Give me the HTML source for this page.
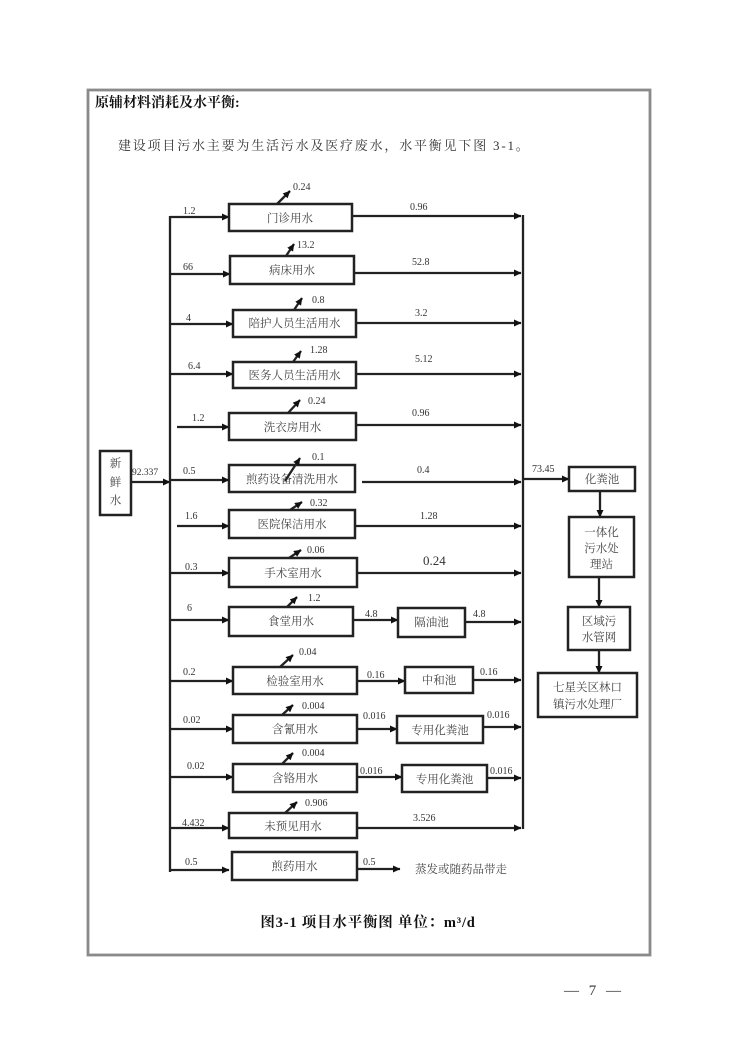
<!DOCTYPE html>
<html><head><meta charset="utf-8">
<style>
html,body{margin:0;padding:0;background:#fff;}
body{width:740px;height:1046px;position:relative;overflow:hidden;}
svg{position:absolute;left:0;top:0;}
.n{font-family:"Liberation Serif","Noto Serif CJK SC",serif;font-size:10px;fill:#333;}
.c{font-family:"Liberation Serif","Noto Serif CJK SC",serif;font-size:11.5px;fill:#444;text-anchor:middle;}
.b{fill:#fff;stroke:#222;stroke-width:2.5;}
.l{stroke:#222;stroke-width:2.3;fill:none;}
</style></head><body>
<svg width="740" height="1046" viewBox="0 0 740 1046" xmlns="http://www.w3.org/2000/svg">
<defs>
<marker id="a" markerWidth="9" markerHeight="9" refX="7" refY="4" orient="auto" markerUnits="userSpaceOnUse"><path d="M0,0.5 L7.5,4 L0,7.5 z" fill="#111"/></marker>
</defs>
<!-- frame -->
<rect x="88" y="90" width="562" height="865" fill="none" stroke="#8a8a8a" stroke-width="2.8"/>
<text x="95" y="107" style="font-family:'Liberation Serif','Noto Serif CJK SC',serif;font-size:14px;font-weight:bold;fill:#111">原辅材料消耗及水平衡:</text>
<text x="118" y="150" style="font-family:'Liberation Serif','Noto Serif CJK SC',serif;font-size:13px;letter-spacing:1.8px;fill:#333">建设项目污水主要为生活污水及医疗废水，水平衡见下图 3-1。</text>

<!-- fresh water -->
<rect class="b" x="100" y="451" width="31" height="64"/>
<text class="c" x="115.5" y="467">新</text>
<text class="c" x="115.5" y="486">鲜</text>
<text class="c" x="115.5" y="504">水</text>
<text class="n" x="132" y="475" style="font-size:9.5px">92.337</text>
<line class="l" x1="131" y1="482" x2="170" y2="482" marker-end="url(#a)"/>

<!-- buses -->
<line class="l" x1="170" y1="216" x2="170" y2="872"/>
<line class="l" x1="523" y1="215" x2="523" y2="829"/>

<!-- Row 1 -->
<line class="l" x1="170" y1="217" x2="229" y2="217" marker-end="url(#a)"/>
<rect class="b" x="229" y="204" width="123" height="27"/>
<text class="c" x="290" y="222">门诊用水</text>
<text class="n" x="183" y="214">1.2</text>
<line class="l" x1="277" y1="204" x2="290" y2="191" marker-end="url(#a)"/>
<text class="n" x="293" y="190">0.24</text>
<line class="l" x1="352" y1="216" x2="521" y2="216" marker-end="url(#a)"/>
<text class="n" x="410" y="210">0.96</text>

<!-- Row 2 -->
<line class="l" x1="170" y1="274" x2="230" y2="274" marker-end="url(#a)"/>
<rect class="b" x="230" y="256" width="124" height="28"/>
<text class="c" x="292" y="274">病床用水</text>
<text class="n" x="183" y="270">66</text>
<line class="l" x1="286" y1="256" x2="294" y2="244" marker-end="url(#a)"/>
<text class="n" x="297" y="248">13.2</text>
<line class="l" x1="354" y1="273" x2="521" y2="273" marker-end="url(#a)"/>
<text class="n" x="412" y="265">52.8</text>

<!-- Row 3 -->
<line class="l" x1="170" y1="324" x2="233" y2="324" marker-end="url(#a)"/>
<rect class="b" x="233" y="310" width="123" height="27"/>
<text class="c" x="294.5" y="327">陪护人员生活用水</text>
<text class="n" x="186" y="321">4</text>
<line class="l" x1="294" y1="310" x2="302" y2="298" marker-end="url(#a)"/>
<text class="n" x="312" y="303">0.8</text>
<line class="l" x1="356" y1="323" x2="521" y2="323" marker-end="url(#a)"/>
<text class="n" x="415" y="316">3.2</text>

<!-- Row 4 -->
<line class="l" x1="170" y1="374" x2="233" y2="374" marker-end="url(#a)"/>
<rect class="b" x="233" y="362" width="123" height="26"/>
<text class="c" x="294.5" y="379">医务人员生活用水</text>
<text class="n" x="188" y="369">6.4</text>
<line class="l" x1="293" y1="362" x2="301" y2="351" marker-end="url(#a)"/>
<text class="n" x="310" y="353">1.28</text>
<line class="l" x1="356" y1="374" x2="521" y2="374" marker-end="url(#a)"/>
<text class="n" x="415" y="362">5.12</text>

<!-- Row 5 -->
<line class="l" x1="177" y1="427" x2="229" y2="427" marker-end="url(#a)"/>
<rect class="b" x="229" y="413" width="127" height="27"/>
<text class="c" x="292.5" y="431">洗衣房用水</text>
<text class="n" x="192" y="421">1.2</text>
<line class="l" x1="288" y1="413" x2="300" y2="400" marker-end="url(#a)"/>
<text class="n" x="308" y="404">0.24</text>
<line class="l" x1="356" y1="425" x2="521" y2="425" marker-end="url(#a)"/>
<text class="n" x="412" y="416">0.96</text>

<!-- Row 6 -->
<line class="l" x1="170" y1="480" x2="229" y2="480" marker-end="url(#a)"/>
<rect class="b" x="229" y="465" width="126" height="27"/>
<text class="c" x="292" y="483">煎药设备清洗用水</text>
<text class="n" x="183" y="474">0.5</text>
<line class="l" x1="285" y1="481" x2="300" y2="458" marker-end="url(#a)"/>
<text class="n" x="312" y="460">0.1</text>
<line class="l" x1="362" y1="482" x2="521" y2="482" marker-end="url(#a)"/>
<text class="n" x="417" y="473">0.4</text>

<!-- Row 7 -->
<line class="l" x1="177" y1="526" x2="229" y2="526" marker-end="url(#a)"/>
<rect class="b" x="229" y="510" width="126" height="28"/>
<text class="c" x="292" y="528">医院保洁用水</text>
<text class="n" x="185" y="519">1.6</text>
<line class="l" x1="290" y1="510" x2="302" y2="502" marker-end="url(#a)"/>
<text class="n" x="310" y="506">0.32</text>
<line class="l" x1="355" y1="526" x2="521" y2="526" marker-end="url(#a)"/>
<text class="n" x="420" y="519">1.28</text>

<!-- Row 8 -->
<line class="l" x1="170" y1="573" x2="229" y2="573" marker-end="url(#a)"/>
<rect class="b" x="229" y="558" width="128" height="29"/>
<text class="c" x="293" y="577">手术室用水</text>
<text class="n" x="185" y="570">0.3</text>
<line class="l" x1="289" y1="558" x2="301" y2="550" marker-end="url(#a)"/>
<text class="n" x="307" y="553">0.06</text>
<line class="l" x1="357" y1="573" x2="521" y2="573" marker-end="url(#a)"/>
<text class="n" x="423" y="565" style="font-size:13px">0.24</text>

<!-- Row 9 -->
<line class="l" x1="170" y1="620" x2="229" y2="620" marker-end="url(#a)"/>
<rect class="b" x="229" y="607" width="124" height="29"/>
<text class="c" x="291" y="625">食堂用水</text>
<text class="n" x="187" y="611">6</text>
<line class="l" x1="287" y1="607" x2="297" y2="597" marker-end="url(#a)"/>
<text class="n" x="308" y="601">1.2</text>
<line class="l" x1="353" y1="620" x2="398" y2="620" marker-end="url(#a)"/>
<text class="n" x="365" y="617">4.8</text>
<rect class="b" x="398" y="608" width="67" height="29"/>
<text class="c" x="431.5" y="626">隔油池</text>
<line class="l" x1="465" y1="622" x2="521" y2="622" marker-end="url(#a)"/>
<text class="n" x="473" y="617">4.8</text>

<!-- Row 10 -->
<line class="l" x1="170" y1="681" x2="233" y2="681" marker-end="url(#a)"/>
<rect class="b" x="233" y="667" width="124" height="27"/>
<text class="c" x="295" y="685">检验室用水</text>
<text class="n" x="183" y="675">0.2</text>
<line class="l" x1="280" y1="667" x2="293" y2="655" marker-end="url(#a)"/>
<text class="n" x="299" y="655">0.04</text>
<line class="l" x1="357" y1="681" x2="405" y2="681" marker-end="url(#a)"/>
<text class="n" x="367" y="678">0.16</text>
<rect class="b" x="405" y="667" width="68" height="26"/>
<text class="c" x="439" y="684">中和池</text>
<line class="l" x1="473" y1="680" x2="521" y2="680" marker-end="url(#a)"/>
<text class="n" x="480" y="675">0.16</text>

<!-- Row 11 -->
<line class="l" x1="170" y1="729" x2="233" y2="729" marker-end="url(#a)"/>
<rect class="b" x="233" y="715" width="124" height="28"/>
<text class="c" x="295" y="733">含氰用水</text>
<text class="n" x="183" y="723">0.02</text>
<line class="l" x1="282" y1="715" x2="293" y2="705" marker-end="url(#a)"/>
<text class="n" x="302" y="709">0.004</text>
<line class="l" x1="357" y1="729" x2="397" y2="729" marker-end="url(#a)"/>
<text class="n" x="363" y="719">0.016</text>
<rect class="b" x="397" y="716" width="86" height="27"/>
<text class="c" x="440" y="734">专用化粪池</text>
<line class="l" x1="483" y1="727" x2="521" y2="727" marker-end="url(#a)"/>
<text class="n" x="487" y="718">0.016</text>

<!-- Row 12 -->
<line class="l" x1="170" y1="777" x2="233" y2="777" marker-end="url(#a)"/>
<rect class="b" x="233" y="764" width="124" height="28"/>
<text class="c" x="295" y="782">含铬用水</text>
<text class="n" x="187" y="769">0.02</text>
<line class="l" x1="282" y1="764" x2="293" y2="753" marker-end="url(#a)"/>
<text class="n" x="302" y="756">0.004</text>
<line class="l" x1="357" y1="777" x2="402" y2="777" marker-end="url(#a)"/>
<text class="n" x="360" y="774">0.016</text>
<rect class="b" x="402" y="765" width="85" height="27"/>
<text class="c" x="444.5" y="783">专用化粪池</text>
<line class="l" x1="487" y1="778" x2="521" y2="778" marker-end="url(#a)"/>
<text class="n" x="490" y="774">0.016</text>

<!-- Row 13 -->
<line class="l" x1="170" y1="828" x2="229" y2="828" marker-end="url(#a)"/>
<rect class="b" x="229" y="813" width="128" height="25"/>
<text class="c" x="293" y="830">未预见用水</text>
<text class="n" x="182" y="826">4.432</text>
<line class="l" x1="285" y1="813" x2="297" y2="802" marker-end="url(#a)"/>
<text class="n" x="305" y="806">0.906</text>
<line class="l" x1="357" y1="828" x2="521" y2="828" marker-end="url(#a)"/>
<text class="n" x="413" y="821">3.526</text>

<!-- Row 14 -->
<line class="l" x1="170" y1="870" x2="229" y2="870" marker-end="url(#a)"/>
<rect class="b" x="232" y="852" width="125" height="28"/>
<text class="c" x="294.5" y="870">煎药用水</text>
<text class="n" x="185" y="865">0.5</text>
<line class="l" x1="357" y1="869" x2="400" y2="869" marker-end="url(#a)"/>
<text class="n" x="363" y="865">0.5</text>
<text x="415" y="873" style="font-family:'Liberation Serif','Noto Serif CJK SC',serif;font-size:11.5px;fill:#444">蒸发或随药品带走</text>

<!-- right column -->
<text class="n" x="532" y="472">73.45</text>
<line class="l" x1="523" y1="479" x2="569" y2="479" marker-end="url(#a)"/>
<rect class="b" x="569" y="467" width="66" height="24"/>
<text class="c" x="602" y="483">化粪池</text>
<line class="l" x1="600" y1="491" x2="600" y2="517" marker-end="url(#a)"/>
<rect class="b" x="569" y="517" width="65" height="60"/>
<text class="c" x="601.5" y="536">一体化</text>
<text class="c" x="601.5" y="552">污水处</text>
<text class="c" x="601.5" y="568">理站</text>
<line class="l" x1="599" y1="577" x2="599" y2="607" marker-end="url(#a)"/>
<rect class="b" x="568" y="607" width="62" height="43"/>
<text class="c" x="599" y="625">区域污</text>
<text class="c" x="599" y="641">水管网</text>
<line class="l" x1="599" y1="650" x2="599" y2="673" marker-end="url(#a)"/>
<rect class="b" x="538" y="673" width="99" height="44"/>
<text class="c" x="587.5" y="691">七星关区林口</text>
<text class="c" x="587.5" y="708">镇污水处理厂</text>

<!-- caption -->
<text x="368" y="927" text-anchor="middle" style="font-family:'Liberation Serif','Noto Serif CJK SC',serif;font-size:14.5px;font-weight:bold;letter-spacing:0.8px;fill:#111">图3-1 项目水平衡图  单位：m³/d</text>
<!-- page number -->
<text x="594" y="995" text-anchor="middle" style="font-family:'Liberation Serif','Noto Serif CJK SC',serif;font-size:15px;letter-spacing:3px;fill:#333">— 7 —</text>
</svg>
</body></html>
